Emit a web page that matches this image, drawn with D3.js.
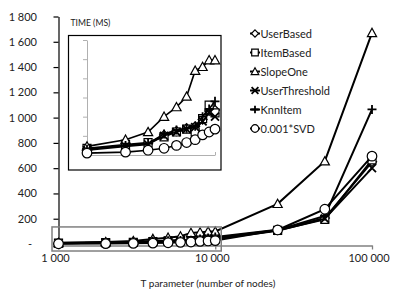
<!DOCTYPE html>
<html>
<head>
<meta charset="utf-8">
<script src="https://cdn.jsdelivr.net/npm/d3@7"></script>
<style>
  body { margin: 0; background: #fff; }
  text { font-family: Lato, "Open Sans", sans-serif; fill: #222; }
</style>
</head>
<body>
<script>
var width = 415, height = 294;

// T parameter values (number of nodes)
var tValues = [1000, 2000, 3000, 4000, 5000, 6000, 7000, 8000, 9000, 10000, 25000, 50000, 100000];

// time in ms for each method
var userBased     = [6, 10, 12, 21, 25, 28, 30, 37, 46, 47, 110, 205, 650];
var itemBased     = [7, 11, 13, 19, 24, 27, 24, 38, 52, 44, 108, 195, 665];
var slopeOne      = [9, 16, 24, 40, 50, 61, 88, 92, 99, 99, 318, 655, 1670];
var userThreshold = [5, 9, 11, 20, 24, 27, 29, 35, 44, 40, 105, 200, 600];
var knnItem       = [6, 10, 12, 22, 26, 28, 30, 40, 48, 56, 112, 222, 1065];
var svd           = [2, 3, 5, 7, 10, 13, 16, 21, 24, 27, 111, 275, 695];

var seriesNames = ["UserBased", "ItemBased", "SlopeOne", "UserThreshold", "KnnItem", "0.001*SVD"];
var seriesMarks = ["diamond", "square", "triangle", "cross", "plus", "circle"];
var seriesData  = [userBased, itemBased, slopeOne, userThreshold, knnItem, svd];

var yTicks = [0, 200, 400, 600, 800, 1000, 1200, 1400, 1600, 1800];
var xTicks = [1000, 10000, 100000];
var insetYTicks = [0, 20, 40, 60, 80, 100, 120];

var series = seriesNames.map(function (n, i) {
  return {
    name: n,
    mark: seriesMarks[i],
    points: tValues.map(function (t, j) { return [t, seriesData[i][j]]; })
  };
});

var svg = d3.select("body").append("svg")
  .attr("width", width)
  .attr("height", height);

// main scales
var x = d3.scaleLog().domain([1000, 100000]).range([58.5, 372]);
var y = d3.scaleLinear().domain([0, 1800]).range([244, 16.5]);

var spaced = function (d) { return d3.format(",")(d).replace(/,/g, " "); };

function markerPath(type, s) {
  switch (type) {
    case "diamond":  return "M0," + (-s) + "L" + s + ",0L0," + s + "L" + (-s) + ",0Z";
    case "square":   return "M" + (-s) + "," + (-s) + "h" + (2 * s) + "v" + (2 * s) + "h" + (-2 * s) + "Z";
    case "triangle": return "M0," + (-s) + "L" + s + "," + (s * 0.8) + "L" + (-s) + "," + (s * 0.8) + "Z";
    case "cross":    return "M" + (-s) + "," + (-s) + "L" + s + "," + s + "M" + (-s) + "," + s + "L" + s + "," + (-s);
    case "plus":     return "M" + (-s) + ",0H" + s + "M0," + (-s) + "V" + s;
    case "circle":   return d3.symbol(d3.symbolCircle, Math.PI * s * s)();
  }
}

function drawMarkers(g, s, sx, sy, size) {
  g.selectAll("path.m")
    .data(s.points)
    .enter().append("path")
    .attr("class", "m")
    .attr("transform", function (d) { return "translate(" + sx(d[0]) + "," + sy(d[1]) + ")"; })
    .attr("d", markerPath(s.mark, size[s.mark]))
    .attr("fill", "#fff")
    .attr("stroke", "#000")
    .attr("stroke-width", (s.mark === "cross" || s.mark === "plus") ? 1.8 : 1.2);
}

var mainSize = { diamond: 4.6, square: 4, triangle: 4.6, cross: 4, plus: 4.5, circle: 4.8 };

// main x axis (gray)
var xAxis = svg.append("g")
  .attr("transform", "translate(0," + 245.5 + ")")
  .call(d3.axisBottom(x).tickValues(xTicks).tickFormat(spaced).tickSize(4).tickSizeOuter(0));
xAxis.select(".domain").attr("stroke", "#808080").attr("stroke-width", 1.3);
xAxis.selectAll(".tick line").attr("stroke", "#808080").attr("stroke-width", 1.3);
xAxis.selectAll(".tick text")
  .attr("dx", -3.5).attr("dy", 9)
  .style("font-size", "11px").style("fill", "#222");

// main y axis (black)
var yAxis = svg.append("g")
  .attr("transform", "translate(58.5,0)")
  .call(d3.axisLeft(y).tickValues(yTicks).tickSize(5).tickSizeOuter(0)
    .tickFormat(function (d) { return d === 0 ? "-" : spaced(d); }));
yAxis.select(".domain").attr("stroke", "#000").attr("stroke-width", 1.2);
yAxis.selectAll(".tick line").attr("stroke", "#000").attr("stroke-width", 1.2);
yAxis.selectAll(".tick text")
  .attr("x", -21.5)
  .attr("dx", function (d) { return d === 0 ? -5 : 0; })
  .style("font-size", "11px").style("fill", "#222");

// main series
var line = d3.line().x(function (d) { return x(d[0]); }).y(function (d) { return y(d[1]); });
series.forEach(function (s) {
  var g = svg.append("g");
  g.append("path")
    .attr("d", line(s.points))
    .attr("fill", "none")
    .attr("stroke", "#000")
    .attr("stroke-width", 2);
  drawMarkers(g, s, x, y, mainSize);
});

// highlight box round the small T region
svg.append("rect")
  .attr("x", x(1000) - 6.5)
  .attr("y", y(135))
  .attr("width", x(10000) - x(1000) + 12.5)
  .attr("height", y(0) - y(135) + 7)
  .attr("fill", "none")
  .attr("stroke", "#808080")
  .attr("stroke-width", 1.5);

// axis title
svg.append("text")
  .attr("x", 208).attr("y", 286.5)
  .attr("text-anchor", "middle")
  .style("font-size", "10px")
  .text("T parameter (number of nodes)");

svg.append("text")
  .attr("x", 70.5).attr("y", 26)
  .style("font-size", "8.6px")
  .text("TIME (MS)");

// inset
var inset = svg.append("g");
inset.append("rect")
  .attr("x", 68.5).attr("y", 35.5)
  .attr("width", 152.5).attr("height", 134.5)
  .attr("fill", "#fff")
  .attr("stroke", "#000")
  .attr("stroke-width", 1.2);

var ix = d3.scaleLog().domain([1000, 10000]).range([87, 215]);
var iy = d3.scaleLinear().domain([0, 120]).range([155, 40]);

var ixAxis = inset.append("g")
  .attr("transform", "translate(0,155)")
  .call(d3.axisTop(ix).tickValues([1000, 10000]).tickFormat("").tickSize(3).tickSizeOuter(0));
var iyAxis = inset.append("g")
  .attr("transform", "translate(87,0)")
  .call(d3.axisLeft(iy).tickValues(insetYTicks).tickFormat("").tickSize(4).tickSizeOuter(0));
inset.selectAll(".domain, .tick line").attr("stroke", "#b0b0b0").attr("stroke-width", 1);

var insetSize = { diamond: 4.5, square: 4, triangle: 4.6, cross: 4, plus: 4.5, circle: 4.8 };
var iline = d3.line().x(function (d) { return ix(d[0]); }).y(function (d) { return iy(d[1]); });
series.forEach(function (s) {
  var pts = s.points.filter(function (d) { return d[0] <= 10000; });
  var ss = { mark: s.mark, points: pts };
  var g = inset.append("g");
  g.append("path")
    .attr("d", iline(pts))
    .attr("fill", "none")
    .attr("stroke", "#000")
    .attr("stroke-width", 1.6);
  drawMarkers(g, ss, ix, iy, insetSize);
});

// legend
var legendSize = { diamond: 3.6, square: 3.3, triangle: 3.8, cross: 3.4, plus: 3.8, circle: 3.8 };
var legend = svg.append("g");
series.forEach(function (s, i) {
  var ly = 33.5 + i * 19;
  var g = legend.append("g").attr("transform", "translate(255," + ly + ")");
  g.append("line")
    .attr("x1", -5).attr("x2", 5)
    .attr("stroke", "#000").attr("stroke-width", 2);
  g.append("path")
    .attr("d", markerPath(s.mark, legendSize[s.mark]))
    .attr("fill", "#fff")
    .attr("stroke", "#000")
    .attr("stroke-width", (s.mark === "cross" || s.mark === "plus") ? 1.8 : 1.2);
  legend.append("text")
    .attr("x", 260.5).attr("y", ly + 4)
    .style("font-size", "11px")
    .text(s.name);
});
</script>
</body>
</html>
